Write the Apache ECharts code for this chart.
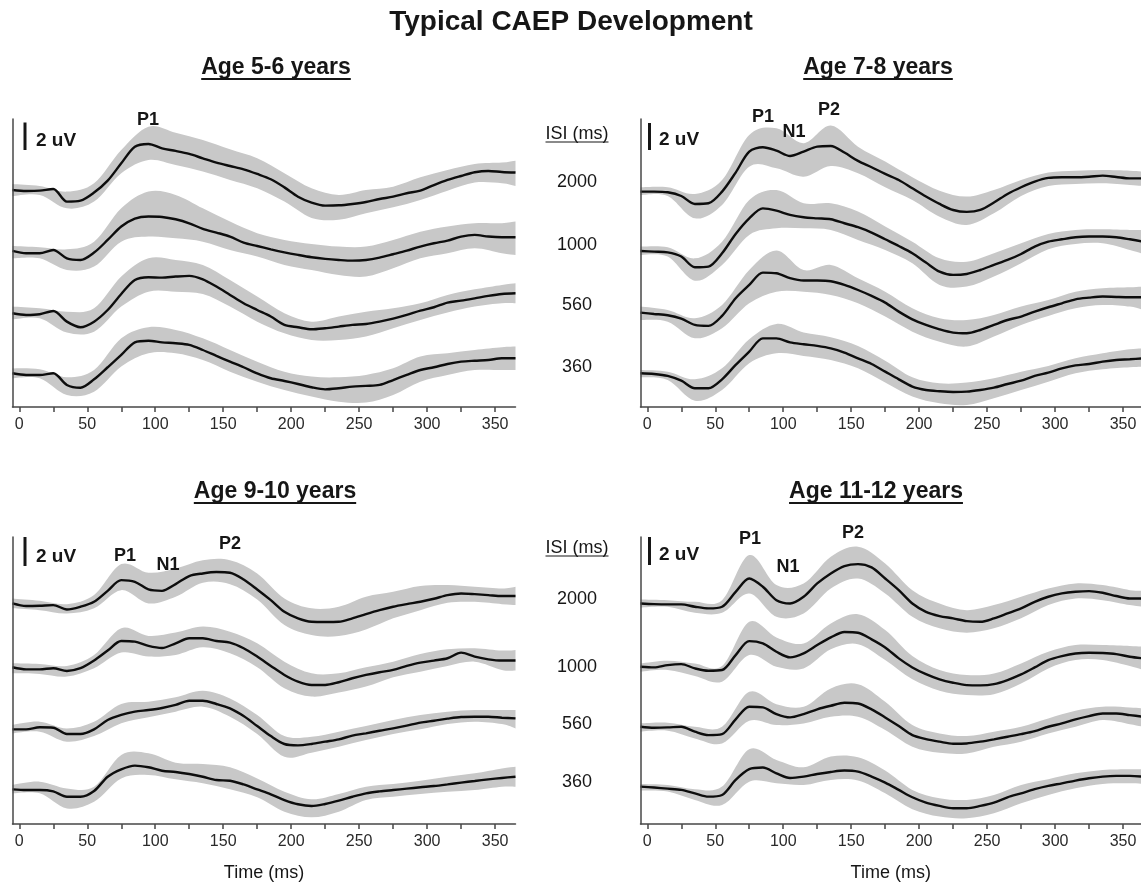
<!DOCTYPE html>
<html>
<head>
<meta charset="utf-8">
<title>Typical CAEP Development</title>
<script src="https://cdn.jsdelivr.net/npm/echarts@6.0.0/dist/echarts.min.js"></script>
<style>
  html, body { margin: 0; padding: 0; background: #fff; }
  #chart { width: 1141px; height: 884px; }
</style>
</head>
<body>
<div id="chart"></div>
<script>
// sample times (ms) for the grand mean traces and for the shaded bands
const timeMs = [-5, 5, 15, 25, 35, 45, 55, 65, 75, 85, 95, 105, 115, 125, 135, 145, 155, 165, 175, 185,
  195, 205, 215, 225, 235, 245, 255, 265, 275, 285, 295, 305, 315, 325, 335, 345, 355, 365];
const bandTimeMs = [-5, 15, 35, 55, 75, 95, 115, 135, 155, 175, 195, 215, 235, 255, 275, 295, 315, 335, 355, 365];

const isiLevels = ['2000', '1000', '560', '360'];
const xTickValues = [0, 25, 50, 75, 100, 125, 150, 175, 200, 225, 250, 275, 300, 325, 350];
const xLabelValues = [0, 50, 100, 150, 200, 250, 300, 350];

// trace rows are ordered like isiLevels; values in uV, relative to each trace's resting level
// Age 5-6 years
const age56Offset = [15.84, 11.39, 6.84, 2.46];
const age56Mean = [
  [0, -0.07, -0.05, 0.07, -0.85, -0.78, -0.19, 0.68, 1.95, 3.16, 3.36, 3.04, 2.85, 2.63, 2.31, 2.0, 1.75, 1.51, 1.17, 0.78, 0.19, -0.49, -0.92, -1.14, -1.12, -1.02, -0.88, -0.66, -0.49, -0.24, -0.05, 0.36, 0.73, 1.02, 1.29, 1.39, 1.31, 1.27],
  [0, -0.17, -0.17, 0.07, -0.54, -0.66, -0.12, 0.8, 1.78, 2.36, 2.51, 2.48, 2.31, 2.02, 1.61, 1.34, 1.05, 0.61, 0.36, 0.12, -0.1, -0.29, -0.46, -0.58, -0.66, -0.71, -0.66, -0.49, -0.24, 0.02, 0.32, 0.56, 0.75, 1.05, 1.17, 1.05, 1.0, 1.0],
  [0, -0.12, -0.07, 0.17, -0.61, -1.02, -0.61, 0.24, 1.41, 2.43, 2.63, 2.6, 2.68, 2.73, 2.48, 1.95, 1.34, 0.73, 0.24, -0.24, -0.85, -1.02, -1.17, -1.09, -0.97, -0.85, -0.78, -0.61, -0.39, -0.12, 0.19, 0.44, 0.78, 0.92, 1.09, 1.27, 1.41, 1.46],
  [0, -0.12, -0.12, 0, -0.85, -1.05, -0.44, 0.44, 1.34, 2.26, 2.38, 2.26, 2.19, 2.07, 1.7, 1.27, 0.85, 0.44, 0, -0.36, -0.56, -0.78, -1.02, -1.17, -1.09, -0.97, -0.92, -0.85, -0.49, -0.12, 0.24, 0.44, 0.68, 0.85, 0.92, 0.97, 1.1, 1.1]
];
const age56Upper = [
  [0.44, 0.29, -0.12, 0.49, 2.92, 4.62, 4.18, 3.65, 2.97, 2.31, 1.22, 0.12, -0.36, 0, 0.24, 0.92, 1.46, 1.9, 2.0, 2.14],
  [0.36, 0.27, 0.12, 0.68, 3.11, 4.33, 4.09, 3.11, 2.14, 1.29, 0.8, 0.51, 0.32, 0.32, 0.8, 1.4, 1.78, 2.02, 2.02, 2.14],
  [0.49, 0.36, 0.12, 0.36, 2.68, 4.01, 3.89, 3.53, 2.43, 1.22, 0, -0.61, -0.24, 0.12, 0.36, 0.73, 1.34, 1.75, 2.07, 2.19],
  [0.36, 0.29, -0.29, 0.24, 2.55, 3.36, 3.16, 2.55, 1.7, 0.85, 0.12, -0.24, -0.29, -0.12, 0.36, 1.22, 1.46, 1.7, 1.9, 1.95]
];
const age56Lower = [
  [-0.44, -0.36, -1.34, -0.85, 1.22, 2.19, 1.82, 1.34, 0.73, 0.12, -0.85, -2.04, -2.17, -1.7, -1.27, -0.73, -0.05, 0.54, 0.49, 0.29],
  [-0.54, -0.54, -1.39, -1.14, 0.68, 1.05, 0.92, 0.68, 0.07, -0.41, -1.02, -1.39, -1.75, -1.87, -1.27, -0.54, -0.17, 0.19, -0.17, -0.29],
  [-0.44, -0.36, -1.41, -1.34, 0.49, 1.58, 1.58, 1.41, 0.49, -0.61, -1.46, -1.95, -1.95, -1.7, -1.09, -0.49, 0.05, 0.49, 0.73, 0.73],
  [-0.36, -0.36, -1.58, -1.34, 0.49, 1.46, 1.46, 0.97, 0.12, -0.61, -1.22, -1.7, -2.07, -2.14, -1.58, -0.61, -0.12, 0.24, 0.24, 0.24]
];

// Age 7-8 years
const age78Offset = [15.72, 11.39, 6.89, 2.46];
const age78Mean = [
  [0, 0, -0.05, -0.32, -0.9, -0.85, 0, 1.39, 2.92, 3.24, 2.99, 2.6, 2.92, 3.28, 3.33, 2.85, 2.24, 1.78, 1.29, 0.85, 0.24, -0.36, -0.9, -1.34, -1.48, -1.34, -0.8, -0.17, 0.32, 0.73, 1.0, 1.05, 1.05, 1.09, 1.17, 1.07, 0.97, 0.97],
  [0, -0.05, -0.1, -0.41, -1.19, -1.14, -0.17, 1.24, 2.38, 3.11, 2.94, 2.63, 2.46, 2.38, 2.31, 2.02, 1.73, 1.34, 0.85, 0.36, -0.17, -0.85, -1.51, -1.75, -1.68, -1.39, -1.02, -0.66, -0.22, 0.32, 0.68, 0.85, 1.0, 1.05, 1.05, 1.0, 0.85, 0.68],
  [0, -0.1, -0.19, -0.44, -0.9, -0.97, -0.24, 1.05, 2.02, 2.92, 2.87, 2.51, 2.34, 2.34, 2.29, 2.02, 1.65, 1.22, 0.73, 0.07, -0.49, -0.9, -1.22, -1.46, -1.51, -1.27, -0.9, -0.54, -0.29, 0.07, 0.39, 0.68, 0.97, 1.09, 1.17, 1.14, 1.12, 1.12],
  [0, -0.05, -0.19, -0.54, -1.09, -1.09, -0.44, 0.61, 1.58, 2.55, 2.55, 2.26, 2.12, 2.0, 1.82, 1.51, 1.09, 0.68, 0.12, -0.44, -0.97, -1.22, -1.31, -1.36, -1.34, -1.22, -1.05, -0.78, -0.54, -0.19, 0.05, 0.36, 0.58, 0.68, 0.85, 0.97, 1.02, 1.09]
];
const age78Upper = [
  [0.32, 0.32, -0.17, 0.85, 4.14, 4.62, 3.53, 4.82, 3.28, 2.19, 1.05, 0.07, -0.36, 0.12, 0.85, 1.39, 1.53, 1.58, 1.53, 1.46],
  [0.32, 0.27, -0.54, 0.68, 3.72, 4.45, 3.48, 3.48, 2.87, 1.78, 0.68, -0.54, -0.78, -0.17, 0.56, 1.24, 1.53, 1.58, 1.53, 1.53],
  [0.44, 0.19, -0.41, 0.56, 3.11, 4.53, 3.11, 3.48, 2.51, 1.53, 0.32, -0.41, -0.54, -0.17, 0.44, 0.92, 1.53, 1.78, 1.85, 1.9],
  [0.24, 0.12, -0.44, 0.36, 2.48, 3.6, 2.97, 2.63, 2.0, 0.92, -0.29, -0.73, -0.68, -0.36, 0.12, 0.54, 1.09, 1.46, 1.75, 1.82]
];
const age78Lower = [
  [-0.24, -0.32, -1.95, -0.97, 1.82, 1.7, 1.09, 1.87, 1.34, 0.32, -0.61, -1.83, -2.43, -1.58, -0.32, 0.41, 0.56, 0.61, 0.49, 0.41],
  [-0.29, -0.41, -2.17, -1.02, 1.17, 1.65, 1.65, 1.53, 0.8, 0.07, -0.9, -2.48, -2.6, -1.87, -0.9, 0.12, 0.51, 0.56, 0.07, -0.22],
  [-0.54, -0.66, -1.87, -1.14, 0.68, 1.53, 1.53, 1.29, 0.68, -0.29, -1.39, -2.12, -2.48, -1.75, -0.9, -0.24, 0.32, 0.56, 0.44, 0.19],
  [-0.29, -0.49, -2.0, -1.22, 0.73, 1.46, 1.27, 0.97, 0.36, -0.68, -1.7, -2.19, -2.31, -1.82, -1.22, -0.61, 0, 0.29, 0.44, 0.49]
];

// Age 9-10 years
const age910Offset = [16.1, 11.44, 6.91, 2.53];
const age910Mean = [
  [0, -0.19, -0.17, -0.12, -0.44, -0.24, 0.12, 0.92, 1.7, 1.58, 1.02, 0.92, 1.41, 2.0, 2.19, 2.29, 2.24, 1.75, 1.02, 0.24, -0.61, -1.09, -1.34, -1.36, -1.34, -1.09, -0.78, -0.49, -0.24, -0.05, 0.12, 0.34, 0.61, 0.73, 0.68, 0.61, 0.54, 0.54],
  [0, -0.15, -0.15, -0.07, -0.27, -0.07, 0.49, 1.22, 1.92, 1.87, 1.56, 1.41, 1.75, 2.12, 2.12, 1.92, 1.8, 1.39, 0.78, 0.1, -0.56, -1.05, -1.29, -1.29, -1.09, -0.8, -0.56, -0.36, -0.19, 0.1, 0.34, 0.49, 0.66, 1.07, 0.78, 0.58, 0.49, 0.49],
  [0, 0, 0.15, 0.12, -0.34, -0.34, 0, 0.68, 1.05, 1.29, 1.41, 1.56, 1.78, 2.09, 2.09, 1.85, 1.53, 0.97, 0.24, -0.49, -1.07, -1.17, -1.07, -0.9, -0.73, -0.46, -0.29, -0.1, 0.07, 0.27, 0.49, 0.63, 0.78, 0.9, 0.92, 0.92, 0.85, 0.8],
  [0, -0.05, -0.05, -0.15, -0.54, -0.54, -0.12, 0.92, 1.46, 1.73, 1.61, 1.36, 1.27, 1.12, 0.92, 0.68, 0.63, 0.36, 0, -0.36, -0.78, -1.09, -1.22, -1.07, -0.83, -0.54, -0.29, -0.15, -0.05, 0.05, 0.15, 0.24, 0.36, 0.49, 0.61, 0.73, 0.83, 0.92]
];
const age910Upper = [
  [0.36, 0.19, -0.05, 0.61, 2.87, 2.24, 2.55, 3.16, 3.16, 2.19, 0.36, -0.36, -0.24, 0.49, 0.85, 1.27, 1.34, 1.22, 1.09, 1.22],
  [0.29, 0.24, 0.1, 0.9, 2.85, 2.29, 2.53, 2.97, 2.6, 1.75, 0.41, -0.44, -0.44, 0, 0.41, 0.97, 1.31, 1.39, 1.22, 1.27],
  [0.32, 0.56, 0.07, 0.56, 1.85, 2.02, 2.34, 2.82, 2.26, 1.05, -0.49, -0.54, -0.17, 0.24, 0.68, 1.05, 1.29, 1.41, 1.41, 1.41],
  [0.32, 0.56, 0.07, 0.19, 2.51, 2.63, 1.95, 1.85, 1.61, 0.8, -0.17, -0.73, -0.34, 0.19, 0.39, 0.63, 0.92, 1.17, 1.53, 1.65]
];
const age910Lower = [
  [-0.36, -0.49, -0.73, -0.36, 0.97, 0, 0.49, 1.51, 1.41, 0.29, -1.58, -2.31, -2.38, -1.9, -1.09, -0.49, 0.05, 0.12, -0.05, -0.12],
  [-0.44, -0.49, -0.68, -0.07, 1.07, 0.78, 0.9, 1.46, 1.02, 0, -1.53, -2.14, -1.85, -1.41, -0.73, -0.32, 0.1, 0.41, -0.2, -0.24],
  [-0.29, -0.17, -0.9, -0.49, 0.44, 0.88, 1.29, 1.65, 0.92, -0.34, -2.0, -1.7, -1.27, -0.78, -0.34, 0, 0.39, 0.56, 0.39, 0.07],
  [-0.29, -0.29, -1.39, -0.9, 0.8, 1.05, 0.73, 0.44, 0, -0.58, -1.63, -2.04, -1.63, -0.78, -0.54, -0.34, -0.17, -0.05, 0.19, 0.19]
];

// Age 11-12 years
const age1112Offset = [16.1, 11.48, 7.1, 2.73];
const age1112Mean = [
  [0, -0.05, -0.07, -0.07, -0.24, -0.36, -0.24, 0.85, 1.82, 1.22, 0.24, 0, 0.49, 1.46, 2.19, 2.73, 2.87, 2.63, 1.82, 0.97, 0, -0.61, -0.92, -1.09, -1.29, -1.34, -1.09, -0.73, -0.36, 0.12, 0.49, 0.73, 0.85, 0.9, 0.78, 0.54, 0.36, 0.36],
  [0, -0.05, 0.12, 0.19, -0.12, -0.29, -0.24, 0.85, 1.87, 1.7, 1.09, 0.68, 0.97, 1.58, 2.14, 2.53, 2.48, 2.0, 1.41, 0.61, -0.05, -0.54, -0.92, -1.17, -1.34, -1.36, -1.27, -0.97, -0.56, -0.05, 0.49, 0.78, 0.97, 1.02, 1.0, 0.92, 0.73, 0.61],
  [0, -0.07, -0.05, 0, -0.36, -0.61, -0.54, 0.54, 1.46, 1.41, 0.92, 0.68, 0.92, 1.27, 1.53, 1.75, 1.7, 1.27, 0.68, 0.05, -0.61, -0.9, -1.09, -1.24, -1.22, -1.09, -0.92, -0.73, -0.54, -0.32, 0, 0.24, 0.54, 0.78, 0.97, 0.97, 0.85, 0.73],
  [0, -0.07, -0.15, -0.24, -0.49, -0.73, -0.61, 0.49, 1.27, 1.39, 0.97, 0.63, 0.73, 0.92, 1.07, 1.17, 1.09, 0.73, 0.29, -0.24, -0.78, -1.17, -1.41, -1.58, -1.58, -1.41, -1.17, -0.78, -0.49, -0.19, 0.05, 0.24, 0.44, 0.61, 0.73, 0.78, 0.78, 0.73]
];
const age1112Upper = [
  [0.29, 0.24, 0.12, 0.24, 3.53, 1.34, 1.46, 3.41, 4.14, 2.92, 0.97, 0, -0.49, -0.12, 0.49, 1.09, 1.46, 1.34, 0.97, 0.92],
  [0.24, 0.44, 0.24, 0.05, 3.28, 2.14, 1.7, 3.16, 3.84, 2.68, 0.78, -0.24, -0.61, -0.49, 0.24, 1.09, 1.58, 1.58, 1.51, 1.46],
  [0.24, 0.29, 0, 0, 2.55, 1.65, 1.46, 2.8, 3.11, 1.82, 0.12, -0.49, -0.68, -0.36, 0, 0.61, 1.17, 1.46, 1.41, 1.34],
  [0.19, 0.12, -0.19, 0, 2.73, 1.95, 1.41, 2.19, 2.14, 1.17, -0.24, -0.85, -0.97, -0.61, 0.12, 0.54, 0.97, 1.22, 1.27, 1.27]
];
const age1112Lower = [
  [-0.29, -0.24, -0.68, -0.68, 0.73, -0.97, -0.73, 1.09, 1.82, 0.73, -0.97, -1.82, -2.14, -1.82, -1.09, -0.12, 0.36, 0.24, -0.12, -0.24],
  [-0.36, -0.24, -0.68, -1.09, 0.85, 0, -0.12, 1.27, 1.65, 0.49, -0.92, -1.75, -2.07, -2.0, -1.22, -0.12, 0.49, 0.49, 0.05, -0.24],
  [-0.36, -0.29, -0.85, -1.22, 0.44, 0.12, 0.24, 0.73, 0.73, -0.24, -1.46, -1.9, -1.95, -1.46, -1.09, -0.49, 0, 0.49, 0.19, 0],
  [-0.29, -0.36, -0.97, -1.34, 0.36, 0.24, 0.12, 0.49, 0.44, -0.49, -1.65, -2.19, -2.31, -1.95, -1.22, -0.61, -0.12, 0.19, 0.24, 0.19]
];

const FONT = '"Liberation Sans", Arial, Helvetica, sans-serif';
const INK = '#161616';
const BAND = '#c8c8c8';
const AXIS = '#474747';

const panels = [
  { title: 'Age 5-6 years', mean: age56Mean, upper: age56Upper, lower: age56Lower, offset: age56Offset,
    grid: { left: 12.5, top: 119, width: 503, height: 288 }, xMax: 365, yMax: 21.02,
    titleX: 276, titleY: 68, bar: [25, 122.5, 150], barText: [36, 141],
    peaks: [['P1', 148, 120]] },
  { title: 'Age 7-8 years', mean: age78Mean, upper: age78Upper, lower: age78Lower, offset: age78Offset,
    grid: { left: 640.5, top: 119, width: 500.5, height: 288 }, xMax: 363.2, yMax: 21.02,
    titleX: 878, titleY: 68, bar: [649.5, 123, 150], barText: [659, 140],
    peaks: [['P1', 763, 117], ['N1', 794, 132], ['P2', 829, 110]] },
  { title: 'Age 9-10 years', mean: age910Mean, upper: age910Upper, lower: age910Lower, offset: age910Offset,
    grid: { left: 12.5, top: 537, width: 503, height: 287 }, xMax: 365, yMax: 20.95,
    titleX: 275, titleY: 492, bar: [25, 537, 566], barText: [36, 557],
    peaks: [['P1', 125, 556], ['N1', 168, 565], ['P2', 230, 544]], xName: 'Time (ms)' },
  { title: 'Age 11-12 years', mean: age1112Mean, upper: age1112Upper, lower: age1112Lower, offset: age1112Offset,
    grid: { left: 640.5, top: 537, width: 500.5, height: 287 }, xMax: 363.2, yMax: 20.95,
    titleX: 876, titleY: 492, bar: [649.5, 537, 565], barText: [659, 555],
    peaks: [['P1', 750, 539], ['N1', 788, 567], ['P2', 853, 533]], xName: 'Time (ms)' }
];

const isiColumns = [
  { x: 577, headerY: 134, rows: [182, 245, 305, 367] },
  { x: 577, headerY: 548, rows: [599, 667, 724, 782] }
];

const measureCtx = document.createElement('canvas').getContext('2d');
function textWidth(text, font) {
  measureCtx.font = font;
  return measureCtx.measureText(text).width;
}

function text(str, x, y, font, align) {
  return {
    type: 'text', x: x, y: y, z: 100, silent: true,
    style: { text: str, font: font, fill: INK, align: align || 'center', verticalAlign: 'middle',
      textAlign: align || 'center', textVerticalAlign: 'middle' }
  };
}

function underline(str, cx, y, font, width) {
  const w = textWidth(str, font);
  return {
    type: 'line', z: 100, silent: true,
    shape: { x1: cx - w / 2, y1: y, x2: cx + w / 2, y2: y },
    style: { stroke: INK, lineWidth: width || 1.6 }
  };
}

// Catmull-Rom through pixel points, as cubic bezier path commands
function curveThrough(pts) {
  let d = '';
  for (let i = 0; i < pts.length - 1; i++) {
    const p0 = pts[i - 1] || pts[i], p1 = pts[i], p2 = pts[i + 1], p3 = pts[i + 2] || pts[i + 1];
    const c1x = p1[0] + (p2[0] - p0[0]) / 6, c1y = p1[1] + (p2[1] - p0[1]) / 6;
    const c2x = p2[0] - (p3[0] - p1[0]) / 6, c2y = p2[1] - (p3[1] - p1[1]) / 6;
    d += ' C' + c1x + ',' + c1y + ' ' + c2x + ',' + c2y + ' ' + p2[0] + ',' + p2[1];
  }
  return d;
}

function renderBand(params, api) {
  if (params.dataIndexInside !== 0) return null;
  const n = params.dataInsideLength || bandTimeMs.length;
  const up = [], lo = [];
  for (let k = 0; k < n; k++) {
    up.push(api.coord([api.value(0, k), api.value(2, k)]));
    lo.push(api.coord([api.value(0, k), api.value(1, k)]));
  }
  lo.reverse();
  const d = 'M' + up[0][0] + ',' + up[0][1] + curveThrough(up) +
    ' L' + lo[0][0] + ',' + lo[0][1] + curveThrough(lo) + ' Z';
  return { type: 'path', shape: { pathData: d }, style: { fill: BAND, stroke: null } };
}

const graphic = [];
const titleFont = 'bold 28px ' + FONT;
graphic.push(text('Typical CAEP Development', 571, 22, titleFont));

const subFont = 'bold 23px ' + FONT;
const peakFont = 'bold 18px ' + FONT;
const barFont = 'bold 19px ' + FONT;
panels.forEach(p => {
  graphic.push(text(p.title, p.titleX, p.titleY, subFont));
  graphic.push(underline(p.title, p.titleX, p.titleY + 11, subFont, 1.8));
  graphic.push({
    type: 'line', z: 100, silent: true,
    shape: { x1: p.bar[0], y1: p.bar[1], x2: p.bar[0], y2: p.bar[2] },
    style: { stroke: INK, lineWidth: 3 }
  });
  graphic.push(text('2 uV', p.barText[0], p.barText[1], barFont, 'left'));
  p.peaks.forEach(pk => graphic.push(text(pk[0], pk[1], pk[2], peakFont)));
});

const isiFont = '18px ' + FONT;
isiColumns.forEach(col => {
  graphic.push(text('ISI (ms)', col.x, col.headerY, isiFont));
  graphic.push(underline('ISI (ms)', col.x, col.headerY + 8, isiFont, 1.2));
  isiLevels.forEach((lvl, i) => graphic.push(text(lvl, col.x, col.rows[i], isiFont)));
});

const grids = [], xAxes = [], yAxes = [], series = [];
panels.forEach((p, gi) => {
  grids.push(Object.assign({ containLabel: false }, p.grid));
  xAxes.push({
    type: 'value', gridIndex: gi, min: -5, max: p.xMax, z: 10,
    axisLine: { show: true, onZero: false, lineStyle: { color: AXIS, width: 1.5 } },
    axisTick: { show: true, length: 5, inside: false, customValues: xTickValues,
      lineStyle: { color: AXIS, width: 1.5 } },
    axisLabel: { show: true, customValues: xLabelValues, color: '#2a2a2a', fontSize: 16,
      fontFamily: FONT, margin: 10 },
    splitLine: { show: false },
    name: p.xName || '', nameLocation: 'middle', nameGap: 40,
    nameTextStyle: { color: INK, fontSize: 18, fontFamily: FONT }
  });
  yAxes.push({
    type: 'value', gridIndex: gi, min: 0, max: p.yMax, z: 10,
    axisLine: { show: true, onZero: false, lineStyle: { color: AXIS, width: 1.5 } },
    axisTick: { show: false }, axisLabel: { show: false }, splitLine: { show: false }
  });

  // shaded band between lower and upper edge of each trace
  p.offset.forEach((off, ti) => {
    series.push({
      type: 'custom', xAxisIndex: gi, yAxisIndex: gi, silent: true, z: 1,
      encode: { x: 0, y: [1, 2] },
      data: bandTimeMs.map((t, k) => [t, off + p.lower[ti][k], off + p.upper[ti][k]]),
      renderItem: renderBand
    });
  });
  p.offset.forEach((off, ti) => {
    series.push({
      name: p.title + ' ISI ' + isiLevels[ti],
      type: 'line', xAxisIndex: gi, yAxisIndex: gi,
      data: timeMs.map((t, k) => [t, off + p.mean[ti][k]]),
      smooth: 0.3, symbol: 'none', silent: true,
      lineStyle: { color: '#0d0d0d', width: 2.4 }, z: 3
    });
  });
});

const chart = echarts.init(document.getElementById('chart'), null, { renderer: 'canvas' });
chart.setOption({
  backgroundColor: '#ffffff',
  animation: false,
  grid: grids,
  xAxis: xAxes,
  yAxis: yAxes,
  series: series,
  graphic: graphic
});
</script>
</body>
</html>
